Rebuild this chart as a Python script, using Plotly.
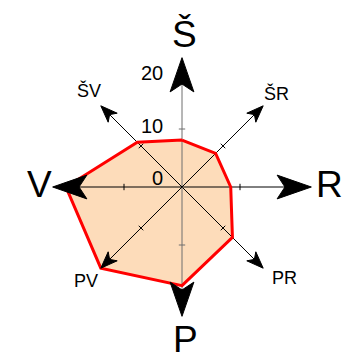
import numpy as np
import plotly.graph_objects as go

# smerovi vjetra i vrijednosti (ruža vjetrova)
smjerovi = ["Š", "ŠR", "R", "PR", "P", "PV", "V", "ŠV"]
kutevi = [90, 45, 0, -45, -90, -135, 180, 135]
vrijednosti = [8.1, 8.2, 8.4, 12.3, 17.0, 19.8, 20.0, 10.9]
oznake_osi = ["0", "10", "20"]
vrijednosti_osi = [0, 10, 20]

PX = 5.8  # px po jedinici
# stranica ima 8px margine, pa je figura manja i pomaknuta
W, H = 342, 353
CX, CY = 174, 179

rad = np.radians(kutevi)
r = np.array(vrijednosti)
px_ = np.append(r * np.cos(rad), r[0] * np.cos(rad[0]))
py_ = np.append(r * np.sin(rad), r[0] * np.sin(rad[0]))

fig = go.Figure()

# ispuna poligona
fig.add_trace(go.Scatter(x=px_, y=py_, mode="lines", fill="toself",
                         fillcolor="#FDDCBA", line=dict(width=0),
                         hoverinfo="skip"))

# osi
for k, kut in zip(smjerovi, kutevi):
    glavna = len(k) == 1
    L = 22.0 if glavna else 19.3
    a = np.radians(kut)
    col = "#6e6e6e" if kut in (90, -90) else "black"
    fig.add_trace(go.Scatter(x=[-0.0, L * np.cos(a)], y=[0, L * np.sin(a)],
                             mode="lines", line=dict(color=col, width=1),
                             hoverinfo="skip"))
    # crtica na 10
    t = 10
    h = 0.55
    bx, by = t * np.cos(a), t * np.sin(a)
    nx, ny = -np.sin(a), np.cos(a)
    fig.add_trace(go.Scatter(x=[bx - h * nx, bx + h * nx], y=[by - h * ny, by + h * ny],
                             mode="lines", line=dict(color=col, width=1),
                             hoverinfo="skip"))

# crveni rub
fig.add_trace(go.Scatter(x=px_, y=py_, mode="lines",
                         line=dict(color="#FF0000", width=3), hoverinfo="skip"))

# strelice
for k, kut in zip(smjerovi, kutevi):
    glavna = len(k) == 1
    if glavna:
        vrh, duz, pol, zarez = 22.3, 5.9, 2.05, 1.35
    else:
        vrh, duz, pol, zarez = 19.8, 2.9, 1.1, 0.75
    a = np.radians(kut)
    ux, uy = np.cos(a), np.sin(a)
    nx, ny = -uy, ux
    tx, ty = vrh * ux, vrh * uy
    bx, by = (vrh - duz) * ux, (vrh - duz) * uy
    mx, my = (vrh - duz + zarez) * ux, (vrh - duz + zarez) * uy
    xs = [tx, bx + pol * nx, mx, bx - pol * nx, tx]
    ys = [ty, by + pol * ny, my, by - pol * ny, ty]
    fig.add_trace(go.Scatter(x=xs, y=ys, mode="lines", fill="toself",
                             fillcolor="black", line=dict(color="black", width=1),
                             hoverinfo="skip"))

# natpisi smjerova
pozicije = {
    "Š": (0.45, 26.3), "R": (25.4, 0.4), "P": (0.6, -26.3), "V": (-24.5, 0.4),
    "ŠR": (16.3, 16.2), "PR": (17.6, -15.7), "PV": (-16.6, -16.2), "ŠV": (-16.0, 16.6),
}
for k in smjerovi:
    x, y = pozicije[k]
    fig.add_annotation(x=x, y=y, text=k, showarrow=False,
                       xanchor="center", yanchor="middle",
                       font=dict(family="Liberation Sans, Arial", color="black",
                                 size=37 if len(k) == 1 else 18))

# oznake skale
pomaci = [1.5, 0.5, -0.4]
for t, v, d in zip(oznake_osi, vrijednosti_osi, pomaci):
    fig.add_annotation(x=-2.9, y=v + d, text=t, showarrow=False,
                       xanchor="right", yanchor="middle",
                       font=dict(family="Liberation Sans, Arial", color="black", size=20))

fig.update_layout(
    width=W, height=H, showlegend=False,
    margin=dict(l=0, r=0, t=0, b=0),
    paper_bgcolor="white", plot_bgcolor="white",
    xaxis=dict(range=[-CX / PX, (W - CX) / PX], visible=False),
    yaxis=dict(range=[-(H - CY) / PX, CY / PX], visible=False),
)

fig.write_html("out.html")
